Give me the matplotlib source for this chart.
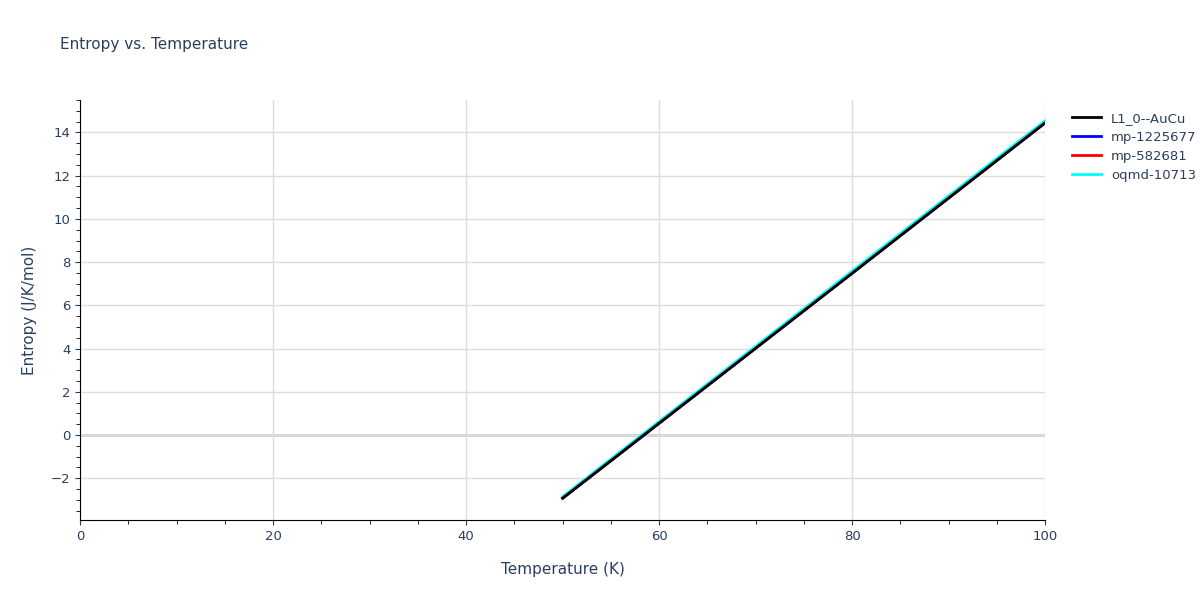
import matplotlib.pyplot as plt
from matplotlib.ticker import MultipleLocator

temps = [50, 60, 70, 80, 90, 100]
s_l10 = [-2.92, 0.55, 4.02, 7.49, 10.97, 14.45]
s_mp1225677 = [-2.92, 0.55, 4.02, 7.49, 10.97, 14.45]
s_mp582681 = [-2.92, 0.55, 4.02, 7.49, 10.97, 14.45]
s_oqmd = [-2.85, 0.63, 4.11, 7.59, 11.07, 14.55]

fig = plt.figure(figsize=(12, 6), dpi=100)
ax = fig.add_axes([0.0667, 0.1333, 0.8043, 0.7])
txt = "#2a3f5f"

ax.plot(temps, s_l10, color="black", lw=2, label="L1_0--AuCu", zorder=5)
ax.plot(temps, s_mp1225677, color="blue", lw=2, label="mp-1225677", zorder=3)
ax.plot(temps, s_mp582681, color="red", lw=2, label="mp-582681", zorder=4)
ax.plot(temps, s_oqmd, color="cyan", lw=2, label="oqmd-10713", zorder=4)

ax.set_xlim(0, 100)
ax.set_ylim(-3.93, 15.5)
ax.xaxis.set_major_locator(MultipleLocator(20))
ax.xaxis.set_minor_locator(MultipleLocator(5))
ax.yaxis.set_major_locator(MultipleLocator(2))
ax.yaxis.set_minor_locator(MultipleLocator(0.5))
ax.grid(True, which="major", color="#dddddd", lw=1)
ax.axhline(0, color="#cccccc", lw=2, zorder=1)
for s in ["top", "right"]:
    ax.spines[s].set_visible(False)
ax.tick_params(colors=txt, labelsize=9.5)
ax.tick_params(which="minor", length=3)
ax.set_xlabel("Temperature (K)", color=txt, fontsize=11, labelpad=14)
ax.set_ylabel("Entropy (J/K/mol)", color=txt, fontsize=11, labelpad=10)
fig.text(0.05, 0.918, "Entropy vs. Temperature", color=txt, fontsize=11)
leg = ax.legend(loc="upper left", bbox_to_anchor=(1.015, 1.0), frameon=False,
                fontsize=9.5, labelspacing=0.45, handlelength=2.2)
for t in leg.get_texts():
    t.set_color(txt)

fig.savefig("out.png")
